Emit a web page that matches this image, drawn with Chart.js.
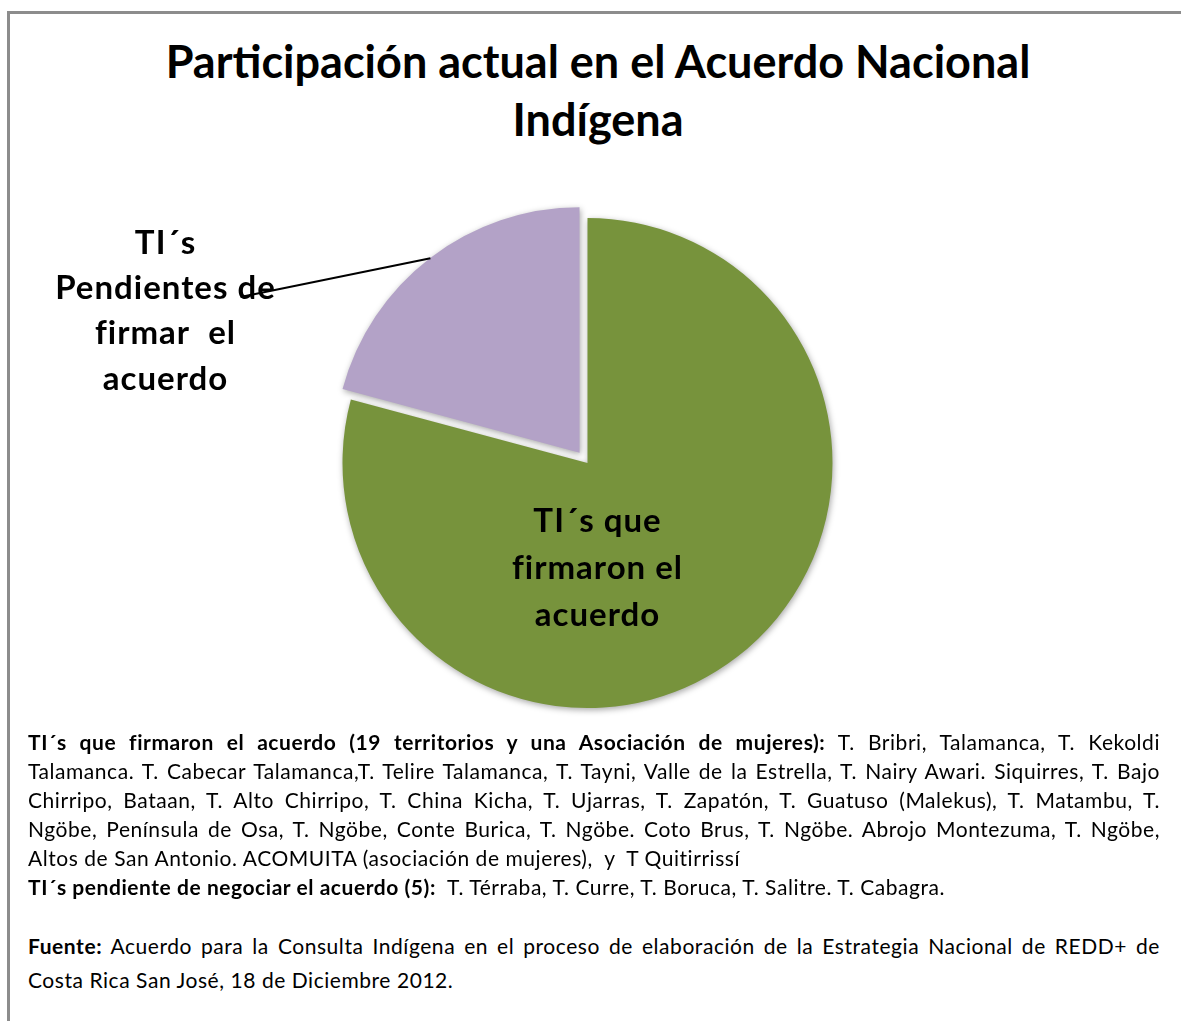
<!DOCTYPE html>
<html lang="es">
<head>
<meta charset="utf-8">
<title>Participación actual en el Acuerdo Nacional Indígena</title>
<script src="https://cdn.jsdelivr.net/npm/chart.js@4.4.1/dist/chart.umd.min.js"></script>
<style>
  html, body { margin: 0; padding: 0; background: #fff; }
  body { width: 1181px; height: 1021px; position: relative; overflow: hidden; font-family: Lato, "Open Sans", sans-serif; color: #000; }
  #frame { position: absolute; left: 7px; top: 11px; width: 1300px; height: 1200px;
           border-top: 3px solid #8c8c8c; border-left: 3px solid #8c8c8c; }
  #wrap { position: absolute; left: 0; top: 0; width: 1181px; height: 740px; }
  #title { position: absolute; left: 0; top: 33px; width: 1196px; text-align: center;
           font-weight: 700; font-size: 45px; line-height: 57.5px; }
  .notes { position: absolute; left: 28px; width: 1132px; font-size: 21px; letter-spacing: 0.55px; }
  #p1 { top: 727px; line-height: 29px; }
  #p2 { top: 929px; line-height: 34px; }
  .j { text-align: justify; text-align-last: justify; }
  .l { text-align: left; }
  b { font-weight: 700; }
</style>
</head>
<body>
<div id="frame"></div>
<div id="title"></div>
<div id="wrap"><canvas id="chart" width="1181" height="740"></canvas></div>

<div class="notes" id="p1">
  <div class="j"><b>TI´s que firmaron el acuerdo (19 territorios y una Asociación de mujeres):</b> T. Bribri, Talamanca, T. Kekoldi</div>
  <div class="j">Talamanca. T. Cabecar Talamanca,T. Telire Talamanca, T. Tayni, Valle de la Estrella, T. Nairy Awari. Siquirres, T. Bajo</div>
  <div class="j">Chirripo, Bataan, T. Alto Chirripo, T. China Kicha, T. Ujarras, T. Zapatón, T. Guatuso (Malekus), T. Matambu, T.</div>
  <div class="j">Ngöbe, Península de Osa, T. Ngöbe, Conte Burica, T. Ngöbe. Coto Brus, T. Ngöbe. Abrojo Montezuma, T. Ngöbe,</div>
  <div class="l">Altos de San Antonio. ACOMUITA (asociación de mujeres),&nbsp; y&nbsp; T Quitirrissí</div>
  <div class="l"><b>TI´s pendiente de negociar el acuerdo (5):</b>&nbsp; T. Térraba, T. Curre, T. Boruca, T. Salitre. T. Cabagra.</div>
</div>
<div class="notes" id="p2">
  <div class="j"><b>Fuente:</b> Acuerdo para la Consulta Indígena en el proceso de elaboración de la Estrategia Nacional de REDD+ de</div>
  <div class="l">Costa Rica San José, 18 de Diciembre 2012.</div>
</div>

<script>
// Territorial groups and how many signed / are pending
const categories = ['TI´s que firmaron el acuerdo', 'TI´s Pendientes de firmar el acuerdo'];
const territoryCounts = [19, 5];

// Chart title and the slice captions (one entry per printed line)
const titleLines = ['Participación actual en el Acuerdo Nacional', 'Indígena'];
const signedLabelLines = ['TI´s que', 'firmaron el', 'acuerdo'];
const pendingLabelLines = ['TI´s', 'Pendientes de', 'firmar  el', 'acuerdo'];

// title block (two centred lines)
const titleEl = document.getElementById('title');
titleLines.forEach(t => {
  const d = document.createElement('div');
  d.textContent = t;
  titleEl.appendChild(d);
});

Chart.defaults.font.family = 'Lato, "Open Sans", sans-serif';

// Soft drop shadow under the slices
const sliceShadow = {
  id: 'sliceShadow',
  beforeDatasetsDraw(chart) {
    const ctx = chart.ctx;
    ctx.save();
    ctx.shadowColor = 'rgba(0,0,0,0.35)';
    ctx.shadowBlur = 6;
    ctx.shadowOffsetX = 1;
    ctx.shadowOffsetY = 2;
  },
  afterDatasetsDraw(chart) {
    chart.ctx.restore();
  }
};

// Captions: one inside the big slice, one outside the small slice with a leader line
const sliceCaptions = {
  id: 'sliceCaptions',
  afterDraw(chart) {
    const ctx = chart.ctx;
    const arcs = chart.getDatasetMeta(0).data;
    const big = arcs[0];
    const small = arcs[1];
    const cx = big.x, cy = big.y;

    ctx.save();
    ctx.fillStyle = '#000';
    ctx.font = 'bold 33px Lato, "Open Sans", sans-serif';
    if ('letterSpacing' in ctx) ctx.letterSpacing = '1px';
    ctx.textAlign = 'center';
    ctx.textBaseline = 'middle';

    signedLabelLines.forEach((t, i) => ctx.fillText(t, cx + 10, cy + 58 + i * 47));

    // leader from the outer edge of the small slice, at its mid angle
    const mid = (small.startAngle + small.endAngle) / 2;
    const shift = (small.options.offset || 0) / 4;
    const r = small.outerRadius + shift;
    const sx = small.x + Math.cos(mid) * r;
    const sy = small.y + Math.sin(mid) * r;
    ctx.strokeStyle = '#000';
    ctx.lineWidth = 2;
    ctx.beginPath();
    ctx.moveTo(sx, sy);
    ctx.lineTo(cx - 347, cy - 166);
    ctx.stroke();

    pendingLabelLines.forEach((t, i) => ctx.fillText(t, cx - 422, cy - 220 + i * 45.3));
    ctx.restore();
  }
};

new Chart(document.getElementById('chart'), {
  type: 'pie',
  data: {
    labels: categories,
    datasets: [{
      data: territoryCounts,
      backgroundColor: ['#77933C', '#B3A2C7'],
      borderWidth: 0,
      offset: [0, 52]
    }]
  },
  options: {
    responsive: false,
    animation: false,
    events: [],
    radius: 245,
    layout: { padding: { left: 0, right: 6, top: 190, bottom: 4 } },
    plugins: {
      legend: { display: false },
      tooltip: { enabled: false },
      title: { display: false }
    }
  },
  plugins: [sliceShadow, sliceCaptions]
});
</script>
</body>
</html>
